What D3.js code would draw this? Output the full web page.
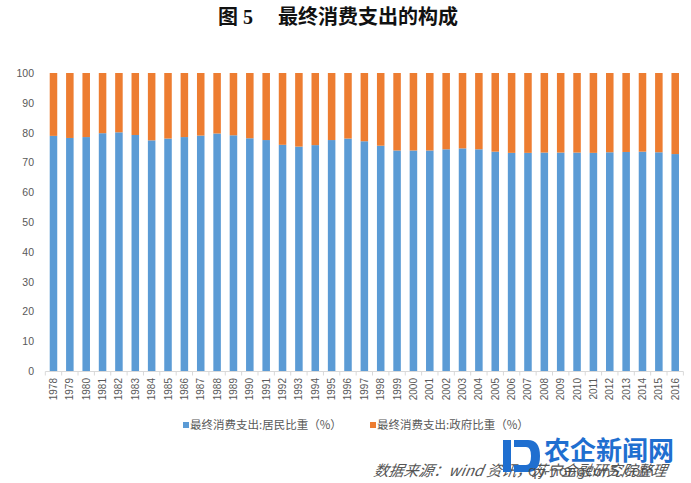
<!DOCTYPE html>
<html>
<head>
<meta charset="utf-8">
<script src="https://cdn.jsdelivr.net/npm/d3@7"></script>
<style>
  body { margin: 0; background: #fff; }
  svg { display: block; }
</style>
</head>
<body>
<svg id="chart"></svg>
<script>
const width = 691;
const height = 483;

const years = [
  "1978", "1979", "1980", "1981", "1982", "1983", "1984", "1985", "1986", "1987",
  "1988", "1989", "1990", "1991", "1992", "1993", "1994", "1995", "1996", "1997",
  "1998", "1999", "2000", "2001", "2002", "2003", "2004", "2005", "2006", "2007",
  "2008", "2009", "2010", "2011", "2012", "2013", "2014", "2015", "2016"
];

// 居民比重 (%)
const household = [
  78.9, 78.2, 78.5, 79.8, 80.1, 79.2, 77.4, 78.0, 78.5, 79.0,
  79.7, 79.1, 78.1, 77.5, 75.9, 75.3, 75.8, 77.5, 78.0, 77.1,
  75.6, 74.0, 74.0, 74.0, 74.4, 74.7, 74.4, 73.6, 73.2, 73.2,
  73.3, 73.3, 73.3, 73.2, 73.4, 73.5, 73.6, 73.4, 72.8
];

// 政府比重 (%)
const government = [
  21.1, 21.8, 21.5, 20.2, 19.9, 20.8, 22.6, 22.0, 21.5, 21.0,
  20.3, 20.9, 21.9, 22.5, 24.1, 24.7, 24.2, 22.5, 22.0, 22.9,
  24.4, 26.0, 26.0, 26.0, 25.6, 25.3, 25.6, 26.4, 26.8, 26.8,
  26.7, 26.7, 26.7, 26.8, 26.6, 26.5, 26.4, 26.6, 27.2
];

const seriesNames = ["最终消费支出:居民比重（%）", "最终消费支出:政府比重（%）"];
const yTicks = [0, 10, 20, 30, 40, 50, 60, 70, 80, 90, 100];

const colors = ["#5b9bd5", "#ed7d31"];

const svg = d3.select("#chart").attr("width", width).attr("height", height);

// title
svg.append("text")
  .attr("x", 218)
  .attr("y", 24)
  .attr("font-family", "'Liberation Serif', 'Noto Sans CJK SC', serif")
  .attr("font-weight", "bold")
  .attr("font-size", 20)
  .attr("fill", "#111")
  .attr("xml:space", "preserve")
  .text("图 5　 最终消费支出的构成");

const x = d3.scaleBand()
  .domain(years)
  .range([45.3, 683.4])
  .paddingInner(0.54)
  .paddingOuter(0.27);

const y = d3.scaleLinear().domain([0, 100]).range([371, 73]);

const rows = years.map((yr, i) => ({ year: yr, h: household[i], g: government[i] }));
const stack = d3.stack().keys(["h", "g"])(rows);

svg.append("g")
  .selectAll("g")
  .data(stack)
  .join("g")
  .attr("fill", (d, i) => colors[i])
  .selectAll("rect")
  .data((d) => d)
  .join("rect")
  .attr("x", (d) => x(d.data.year))
  .attr("y", (d) => y(d[1]))
  .attr("width", x.bandwidth())
  .attr("height", (d) => y(d[0]) - y(d[1]));

// y axis labels
svg.append("g")
  .selectAll("text")
  .data(yTicks)
  .join("text")
  .attr("x", 34)
  .attr("y", (d) => y(d) + 4)
  .attr("text-anchor", "end")
  .attr("font-family", "'Liberation Sans', Arial, sans-serif")
  .attr("font-size", 10.5)
  .attr("fill", "#595959")
  .text((d) => d);

// x axis line and ticks
const axisG = svg.append("g");
axisG.append("line")
  .attr("x1", 45.3).attr("x2", 683.4)
  .attr("y1", 371.5).attr("y2", 371.5)
  .attr("stroke", "#d9d9d9");
axisG.selectAll("line.tick")
  .data(years.concat(["end"]))
  .join("line")
  .attr("class", "tick")
  .attr("x1", (d, i) => 45.3 + i * x.step())
  .attr("x2", (d, i) => 45.3 + i * x.step())
  .attr("y1", 371.5).attr("y2", 375.5)
  .attr("stroke", "#d9d9d9");

axisG.selectAll("text")
  .data(years)
  .join("text")
  .attr("transform", (d) => `translate(${x(d) + x.bandwidth() / 2 + 3.5},378) rotate(-90)`)
  .attr("text-anchor", "end")
  .attr("font-family", "'Liberation Sans', Arial, sans-serif")
  .attr("font-size", 10)
  .attr("fill", "#595959")
  .text((d) => d);

// legend
const legendX = [183, 370];
const legend = svg.append("g")
  .selectAll("g")
  .data(seriesNames)
  .join("g")
  .attr("transform", (d, i) => `translate(${legendX[i]},425)`);
legend.append("rect")
  .attr("x", 0).attr("y", -3)
  .attr("width", 6).attr("height", 6)
  .attr("fill", (d, i) => colors[i]);
legend.append("text")
  .attr("x", 7)
  .attr("y", 4)
  .attr("font-family", "'Noto Sans CJK SC', sans-serif")
  .attr("font-size", 11.5)
  .attr("fill", "#595959")
  .text((d) => d);

// source note
svg.append("text")
  .attr("x", 373)
  .attr("y", 476)
  .attr("font-family", "'Noto Sans CJK SC', sans-serif")
  .attr("font-style", "italic")
  .attr("font-size", 15)
  .attr("fill", "#555")
  .attr("transform", "skewX(-10) translate(84,0)")
  .text("数据来源：wind 资讯，苏宁金融研究院整理");

// watermark
const wm = svg.append("g");
wm.append("path")
  .attr("d", "M503,440 h8 v32 h-8 Z M514,440 h14 q12,0 12,16 q0,16 -12,16 h-14 v-7 h12 q5,0 5,-9 q0,-9 -5,-9 h-12 Z")
  .attr("fill", "#1f6fd0");
wm.append("text")
  .attr("x", 544)
  .attr("y", 460)
  .attr("font-family", "'Noto Sans CJK SC', sans-serif")
  .attr("font-weight", "bold")
  .attr("font-size", 26)
  .attr("fill", "#1f6fd0")
  .text("农企新闻网");
wm.append("text")
  .attr("x", 528)
  .attr("y", 476)
  .attr("font-family", "'DejaVu Sans', sans-serif")
  .attr("font-size", 14)
  .attr("fill", "#444")
  .attr("fill-opacity", 0.85)
  .text("qy-nongcun5.com");
</script>
</body>
</html>
